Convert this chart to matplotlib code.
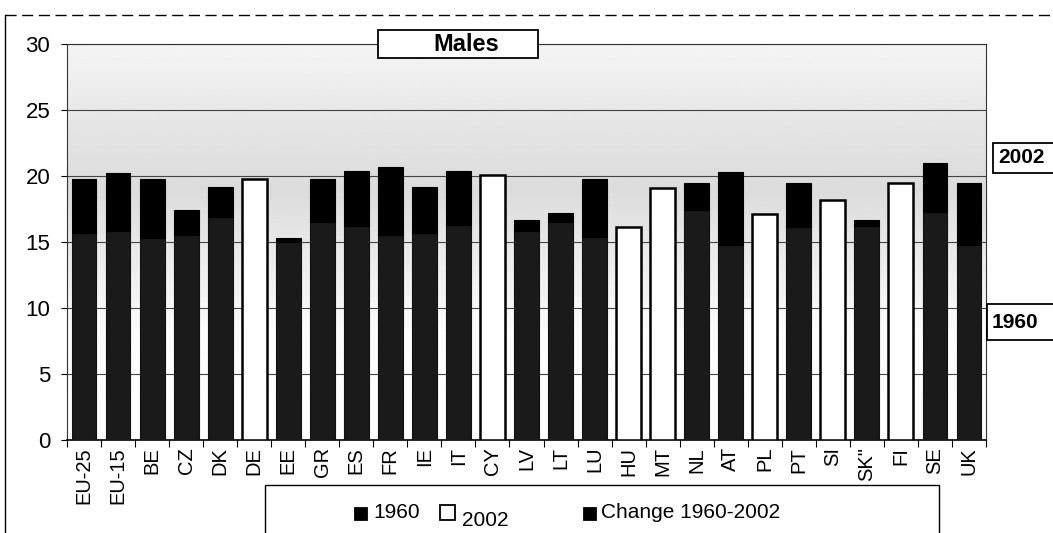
import numpy as np
import matplotlib
matplotlib.use("Agg")
import matplotlib.pyplot as plt
from matplotlib.patches import Rectangle
from matplotlib.lines import Line2D

plt.rcParams['font.family'] = ['Liberation Sans', 'DejaVu Sans']

# life expectancy, males
countries = ['EU-25', 'EU-15', 'BE', 'CZ', 'DK', 'DE', 'EE', 'GR', 'ES', 'FR',
             'IE', 'IT', 'CY', 'LV', 'LT', 'LU', 'HU', 'MT', 'NL', 'AT',
             'PL', 'PT', 'SI', 'SK"', 'FI', 'SE', 'UK']
v2002 = [19.8, 20.2, 19.8, 17.4, 19.2, 19.8, 15.3, 19.8, 20.4, 20.7,
         19.2, 20.4, 20.1, 16.7, 17.2, 19.8, 16.1, 19.1, 19.5, 20.3,
         17.1, 19.5, 18.2, 16.7, 19.5, 21.0, 19.5]
# nan = no 1960 value (bar shown white, 2002 only)
v1960 = [15.7, 15.8, 15.3, 15.5, 16.9, np.nan, 15.0, 16.5, 16.2, 15.5,
         15.7, 16.3, np.nan, 15.8, 16.5, 15.4, np.nan, np.nan, 17.4, 14.8,
         np.nan, 16.1, np.nan, 16.2, np.nan, 17.3, 14.8]
yticks = [0, 5, 10, 15, 20, 25, 30]

W, H = 1053, 533
fig = plt.figure(figsize=(W / 100, H / 100), dpi=100)
fig.patch.set_facecolor('white')

def fx(px):
    return px / W

def fy(py):
    return 1 - py / H

left, right, top, bottom = 67, 986, 44, 440
ax = fig.add_axes([fx(left), fy(bottom), fx(right - left), fy(top) - fy(bottom)])

x = np.arange(len(countries))
a2002 = np.array(v2002)
a1960 = np.array(v1960)
has60 = ~np.isnan(a1960)
change = a2002 - np.where(has60, a1960, 0)

# background shading of plot area
gy = np.linspace(0, 30, 300)
shade = np.interp(gy, [0, 8, 14, 19, 24, 30], [1.0, 0.99, 0.92, 0.86, 0.90, 0.96])
ax.imshow(np.repeat(shade[:, None], 2, axis=1), cmap='gray', vmin=0, vmax=1,
          extent=[-0.5, len(x) - 0.5, 0, 30], origin='lower', aspect='auto', zorder=0)

bw = 0.73
ax.bar(x[has60], a1960[has60], bw, color='#1a1a1a', edgecolor='#111111', lw=0.8, zorder=3)
ax.bar(x[has60], change[has60], bw, bottom=a1960[has60], color='black',
       edgecolor='black', lw=0.8, zorder=3)
ax.bar(x[~has60], a2002[~has60], bw, color='white', edgecolor='black', lw=1.8, zorder=3)

ax.set_xlim(-0.5, len(x) - 0.5)
ax.set_ylim(0, 30)
ax.set_yticks(yticks)
ax.set_yticklabels([str(t) for t in yticks], fontsize=16)
ax.yaxis.grid(True, color='#444444', lw=0.8)
ax.set_axisbelow(True)
ax.set_xticks(x)
ax.set_xticklabels(countries, rotation=90, fontsize=14.5)
ax.set_xticks(np.arange(len(x) + 1) - 0.5, minor=True)
ax.tick_params(axis='x', which='major', length=0, pad=5)
ax.tick_params(axis='x', which='minor', length=5, width=0.8)
ax.tick_params(axis='y', length=4, width=0.8, pad=8)
for s in ax.spines.values():
    s.set_color('#333333')
    s.set_linewidth(0.8)
ax.spines['bottom'].set_color('black')
ax.spines['bottom'].set_linewidth(1.2)

# title box
fig.patches.append(Rectangle((fx(378), fy(58)), fx(160), fy(30) - fy(58),
                             transform=fig.transFigure, facecolor='white',
                             edgecolor='black', lw=1.3, zorder=5))
fig.text(fx(466), fy(45), 'Males', ha='center', va='center', fontsize=17,
         fontweight='bold', zorder=6)

# right side labels
for lab, y0, y1, xl in [('2002', 143, 173, 993), ('1960', 304, 340, 987)]:
    fig.patches.append(Rectangle((fx(xl), fy(y1)), fx(W - xl + 10), fy(y0) - fy(y1),
                                 transform=fig.transFigure, facecolor='white',
                                 edgecolor='black', lw=1.3, zorder=5))
    fig.text(fx(xl + 5), fy((y0 + y1) / 2), lab, ha='left', va='center',
             fontsize=15, fontweight='bold', zorder=6)

# outer frame
fig.add_artist(Line2D([fx(5), 1], [fy(15), fy(15)], transform=fig.transFigure,
                      color='black', lw=1, ls=(0, (8, 4))))
fig.add_artist(Line2D([fx(5), fx(5)], [fy(15), 0], transform=fig.transFigure,
                      color='black', lw=1))

# legend box
fig.patches.append(Rectangle((fx(265), fy(540)), fx(939 - 265), fy(485) - fy(540),
                             transform=fig.transFigure, facecolor='white',
                             edgecolor='black', lw=1, zorder=5))
leg = [('1960', 355, 12, 'black', 512, 373),
       ('2002', 440, 15, 'white', 520, 462),
       ('Change 1960-2002', 584, 12, 'black', 512, 601)]
for lab, sx, sz, col, ty, tx in leg:
    fig.patches.append(Rectangle((fx(sx), fy(520)), fx(sz), fy(520 - sz) - fy(520),
                                 transform=fig.transFigure, facecolor=col,
                                 edgecolor='black', lw=1.3, zorder=6))
    fig.text(fx(tx), fy(ty), lab, ha='left', va='center', fontsize=15, zorder=7)

fig.savefig('out.png', dpi=100)
